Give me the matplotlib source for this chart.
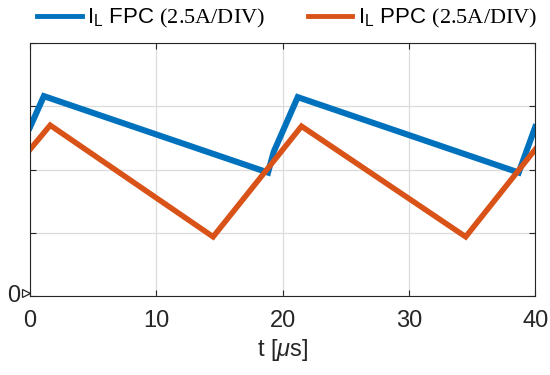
import numpy as np
import matplotlib.pyplot as plt
from matplotlib.lines import Line2D

plt.rcParams['font.family'] = ['Liberation Sans', 'DejaVu Sans']
plt.rcParams['mathtext.fontset'] = 'custom'
plt.rcParams['mathtext.rm'] = 'Liberation Serif'
plt.rcParams['mathtext.sf'] = 'Liberation Sans'
plt.rcParams['mathtext.it'] = 'Liberation Sans:italic'

# waveform breakpoints (t in us, current in A)
t_fpc = [0, 1.1, 18.85, 19.3, 21.2, 38.7, 40]
i_fpc = [6.67, 7.9, 4.88, 5.7, 7.86, 4.88, 6.67]

t_ppc = [0, 1.6, 14.5, 21.5, 34.5, 40]
i_ppc = [5.79, 6.75, 2.34, 6.71, 2.34, 5.79]

xticks = [0, 10, 20, 30, 40]
yticks = [0, 2.5, 5, 7.5, 10]

blue = '#0072BD'
orange = '#D95319'
axcol = '#262626'

fig = plt.figure(figsize=(5.5, 3.75), dpi=100)
ax = fig.add_axes([0.0545, 0.2107, 0.9185, 0.6746])

ax.plot(t_fpc, i_fpc, color=blue, lw=4.4, solid_joinstyle='miter')
ax.plot(t_ppc, i_ppc, color=orange, lw=4.0, solid_joinstyle='miter')

ax.set_xlim(0, 40)
ax.set_ylim(0, 10)
ax.set_xticks(xticks)
ax.set_yticks(yticks)
ax.set_yticklabels([])
ax.grid(True, color='#dcdcdc', lw=0.9)
ax.set_axisbelow(True)
ax.tick_params(direction='in', length=4, color=axcol, top=True, right=True,
               labelsize=17, labelcolor=axcol, pad=10)
for s in ax.spines.values():
    s.set_color(axcol)
    s.set_linewidth(0.8)

ax.set_xlabel(r't [$\mu$s]', fontsize=17, color=axcol, labelpad=4)

# ground reference marker
ax.plot([-0.35], [0.1], marker='>', ms=6, mfc='white', mec=axcol, mew=0.9, clip_on=False)
ax.text(-0.75, 0, '0', fontsize=17, color=axcol, ha='right', va='center')

handles = [Line2D([], [], color=blue, lw=3.5), Line2D([], [], color=orange, lw=3.5)]
labels = [r'$\mathsf{I_L}$ FPC $\mathrm{(2.5A/DIV)}$',
          r'$\mathsf{I_L}$ PPC $\mathrm{(2.5A/DIV)}$']
fig.legend(handles, labels, loc='center', bbox_to_anchor=(0.522, 0.95), ncol=2,
           frameon=False, fontsize=16, handlelength=2.0, handletextpad=0.25,
           columnspacing=1.9)

fig.savefig('out.png', dpi=100)
